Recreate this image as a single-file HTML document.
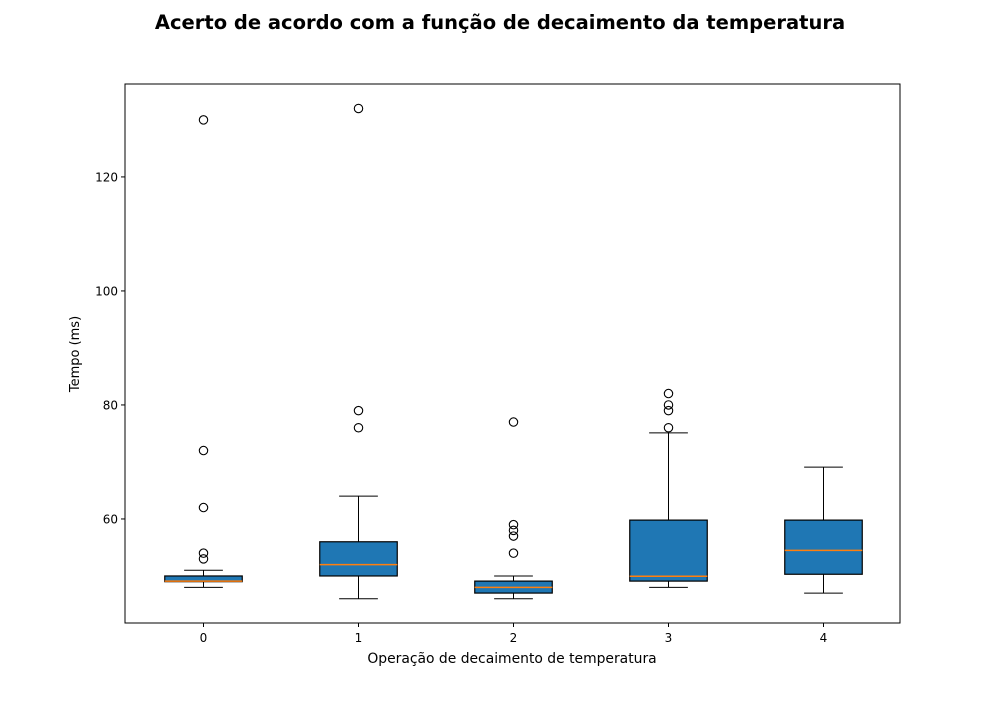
<!DOCTYPE html>
<html><head><meta charset="utf-8"><style>
body{margin:0;background:#fff;}
svg text{font-family:"DejaVu Sans","Liberation Sans",sans-serif;}
</style></head><body>
<svg id="chart" width="1000" height="700" xmlns="http://www.w3.org/2000/svg">
<rect width="1000" height="700" fill="#fff"/>
<text x="500" y="29" text-anchor="middle" font-size="19.5" font-weight="bold">Acerto de acordo com a função de decaimento da temperatura</text>
<g id="plot"></g>
<rect x="125" y="84" width="775" height="539" fill="none" stroke="#000" stroke-width="1"/>
<text x="512" y="663" text-anchor="middle" font-size="13.9">Operação de decaimento de temperatura</text>
<text transform="translate(79,354) rotate(-90)" text-anchor="middle" font-size="13">Tempo (ms)</text>
</svg>
<script>
const categories=["0","1","2","3","4"];
const whisLo=[48,46,46,48,47];
const q1=[49,50,47,49.1,50.3];
const medians=[49.1,52,48,49.95,54.5];
const q3=[50,56,49.1,59.8,59.8];
const whisHi=[51,64,50,75.1,69.1];
const outliers=[[53,54,62,72,130],[76,79,132],[54,57,58,59,77],[76,79,80,82],[]];
const yTicks=[60,80,100,120];

const L=125,R=900,T=84,B=623;
const yMin=41.75,yMax=136.3;
const y=v=>B-(v-yMin)/(yMax-yMin)*(B-T);
const x=i=>L+1+(i+0.5)/categories.length*(R-L);
const unit=(R-L)/categories.length;
const NS="http://www.w3.org/2000/svg";
const g=document.getElementById('plot');
function mk(tag,attrs,parent){const e=document.createElementNS(NS,tag);for(const k in attrs)e.setAttribute(k,attrs[k]);(parent||g).appendChild(e);return e;}

yTicks.forEach(t=>{
  const l=mk('line',{x1:L-4,x2:L,y1:y(t),y2:y(t),stroke:'#000'});
  
  
  const tx=mk('text',{x:L-7,y:y(t)+4.5,'text-anchor':'end','font-size':'12'});
  tx.textContent=t;
  
  
});
categories.forEach((c,i)=>{
  const cx=x(i);
  const l=mk('line',{x1:cx,x2:cx,y1:B,y2:B+4,stroke:'#000'});
  
  
  const tx=mk('text',{x:cx,y:B+19,'text-anchor':'middle','font-size':'12'});
  tx.textContent=c;
  
  
  const grp=mk('g',{});
  
  
  const hw=unit*0.25, cw=unit*0.125;
  mk('line',{x1:cx,x2:cx,y1:y(q3[i]),y2:y(whisHi[i]),stroke:'#000'},grp);
  mk('line',{x1:cx,x2:cx,y1:y(q1[i]),y2:y(whisLo[i]),stroke:'#000'},grp);
  mk('line',{x1:cx-cw,x2:cx+cw,y1:y(whisHi[i]),y2:y(whisHi[i]),stroke:'#000'},grp);
  mk('line',{x1:cx-cw,x2:cx+cw,y1:y(whisLo[i]),y2:y(whisLo[i]),stroke:'#000'},grp);
  mk('rect',{x:cx-hw,y:y(q3[i]),width:2*hw,height:y(q1[i])-y(q3[i]),fill:'#1f77b4',stroke:'#000','stroke-width':1.2},grp);
  mk('line',{x1:cx-hw,x2:cx+hw,y1:y(medians[i]),y2:y(medians[i]),stroke:'#ff7f0e','stroke-width':1.5},grp);
  outliers[i].forEach(o=>{
    const ci=mk('circle',{cx:cx,cy:y(o),r:4.2,fill:'none',stroke:'#000','stroke-width':1.1},grp);
    
    
  });
});
</script>
</body></html>
